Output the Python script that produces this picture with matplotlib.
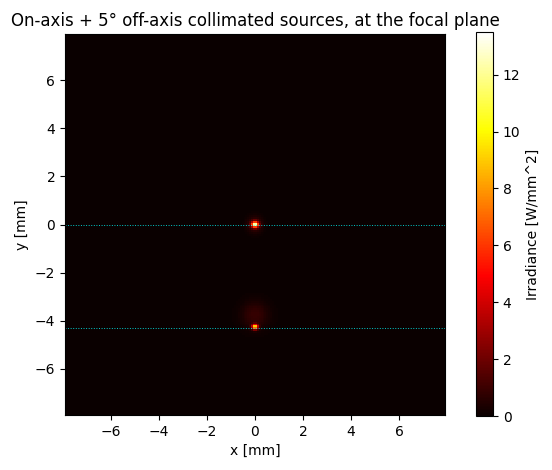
import numpy as np
import matplotlib
matplotlib.use("Agg")
import matplotlib.pyplot as plt

# detector half-width [mm] and pixel count
half_width = 7.92
n_pix = 200

# spot centres [mm], peak irradiance [W/mm^2], core sigma [mm]
spot_x = [0.0, 0.0]
spot_y = [0.0, -4.28]
spot_peak = [13.5, 10.0]
spot_sigma = [0.09, 0.08]
halo_peak = [1.2, 0.9]
halo_sigma = [0.22, 0.4]
halo_shift = [0.0, 0.5]

# reference lines (chief ray heights) [mm]
line_y = [0.0, -4.3]

xs = np.linspace(-half_width, half_width, n_pix)
X, Y = np.meshgrid(xs, xs)
E = np.zeros_like(X)
for cx, cy, pk, sg, hp, hs, sh in zip(spot_x, spot_y, spot_peak, spot_sigma,
                                      halo_peak, halo_sigma, halo_shift):
    r2 = (X - cx) ** 2 + (Y - cy) ** 2
    E += pk * np.exp(-r2 / (2 * sg ** 2))
    rh = (X - cx) ** 2 + (Y - cy - sh) ** 2
    E += hp * np.exp(-rh / (2 * hs ** 2))

fig = plt.figure(figsize=(5.52, 4.70), dpi=100)
ax = fig.add_axes([65 / 552, 1 - 415 / 470, 380 / 552, 381 / 470])
cax = fig.add_axes([476 / 552, 1 - 416 / 470, 17 / 552, 384 / 470])
im = ax.imshow(E, origin="lower", cmap="hot", extent=[-half_width, half_width, -half_width, half_width],
               vmin=0, vmax=13.5, interpolation="nearest", aspect="auto")
for ly in line_y:
    ax.axhline(ly, color="cyan", linestyle=":", linewidth=0.7, alpha=0.8)
ax.set_xticks([-6, -4, -2, 0, 2, 4, 6])
ax.set_yticks([-6, -4, -2, 0, 2, 4, 6])
ax.set_xlabel("x [mm]")
ax.set_ylabel("y [mm]")
ax.set_title("On-axis + 5° off-axis collimated sources, at the focal plane")
cb = fig.colorbar(im, cax=cax)
cb.set_label("Irradiance [W/mm^2]")
fig.savefig("out.png")
